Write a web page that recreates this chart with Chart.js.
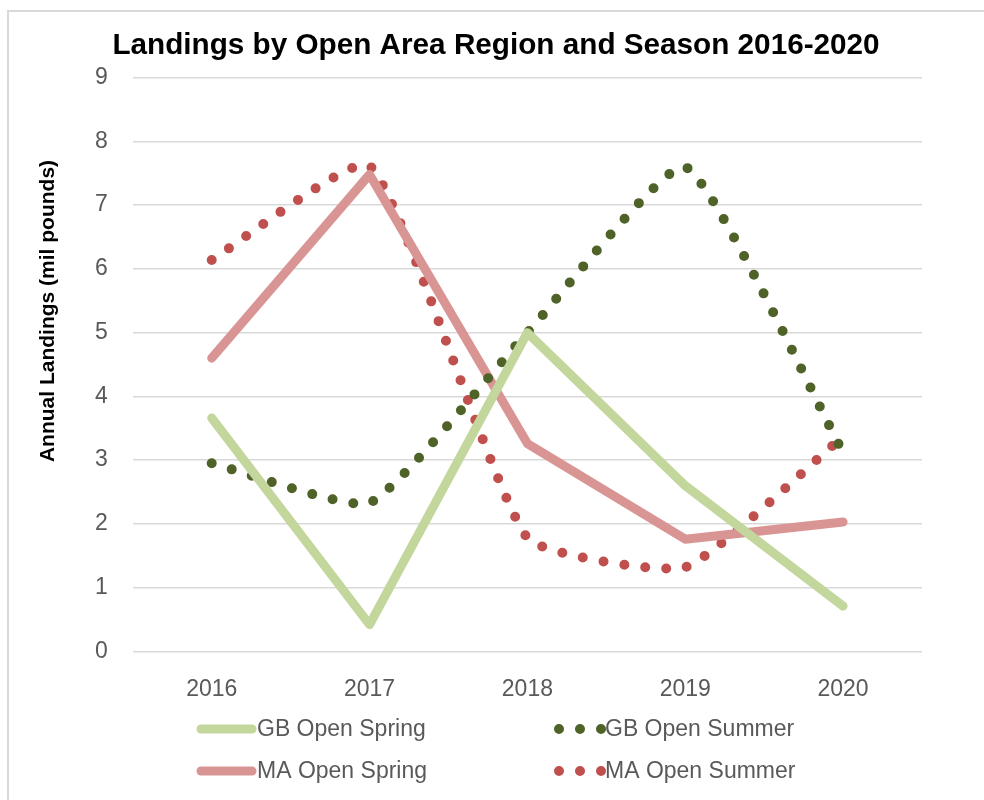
<!DOCTYPE html>
<html>
<head>
<meta charset="utf-8">
<title>Landings by Open Area Region and Season</title>
<script src="https://cdn.jsdelivr.net/npm/chart.js@4.4.1/dist/chart.umd.min.js"></script>
<style>
    html, body { margin: 0; padding: 0; background: #fff; }
    #wrap { position: relative; width: 984px; height: 800px; overflow: hidden; }
    #frame {
        position: absolute; left: 7px; top: 10px; width: 1200px; height: 1000px;
        border-top: 2px solid #d9d9d9; border-left: 2px solid #d9d9d9;
    }
    canvas { position: absolute; left: 0; top: 0; }
</style>
</head>
<body>
<div id="wrap">
    <div id="frame"></div>
    <canvas id="landingsChart" width="984" height="800"></canvas>
</div>
<script>
// Annual landings, million pounds
const years = ['2016', '2017', '2018', '2019', '2020'];
const gbOpenSpring = [3.66, 0.42, 5.0, 2.6, 0.71];
const gbOpenSummer = [2.95, 2.33, 5.0, 7.6, 3.12];
const maOpenSpring = [4.6, 7.48, 3.26, 1.76, 2.03];
const maOpenSummer = [6.14, 7.62, 1.78, 1.32, 3.37];

const FONT = "'Liberation Sans', Arial, sans-serif";
const GRID = '#d9d9d9';
const TEXT_GRAY = '#595959';

function solidSeries(label, data, color) {
    return {
        label: label,
        data: data,
        borderColor: color,
        backgroundColor: color,
        borderWidth: 9,
        borderCapStyle: 'round',
        borderJoinStyle: 'round',
        pointRadius: 0,
        pointHoverRadius: 0,
        tension: 0,
        fill: false
    };
}

function dottedSeries(label, data, color) {
    return {
        label: label,
        data: data,
        borderColor: color,
        backgroundColor: color,
        borderWidth: 10,
        borderDash: [0, 21],
        borderCapStyle: 'round',
        borderJoinStyle: 'round',
        pointRadius: 0,
        pointHoverRadius: 0,
        tension: 0.15,
        fill: false
    };
}

// y axis title, drawn a bit above the axis middle
const yTitlePlugin = {
    id: 'yTitle',
    afterDraw(chart, args, opts) {
        const ctx = chart.ctx;
        ctx.save();
        ctx.translate(opts.x, opts.y);
        ctx.rotate(-Math.PI / 2);
        ctx.font = 'bold 21px ' + FONT;
        ctx.fillStyle = '#000';
        ctx.textAlign = 'center';
        ctx.textBaseline = 'middle';
        ctx.fillText(opts.text, 0, 0);
        ctx.restore();
    }
};

// two-column legend under the x axis
const gridLegendPlugin = {
    id: 'gridLegend',
    afterDraw(chart, args, opts) {
        const ctx = chart.ctx;
        const sets = chart.data.datasets;
        ctx.save();
        ctx.font = '23px ' + FONT;
        ctx.textBaseline = 'middle';
        ctx.textAlign = 'left';
        sets.forEach((ds, i) => {
            const col = i % 2;
            const row = Math.floor(i / 2);
            const x = opts.columns[col];
            const y = opts.rows[row];
            ctx.strokeStyle = ds.borderColor;
            ctx.lineWidth = ds.borderWidth;
            ctx.lineCap = 'round';
            ctx.setLineDash(ds.borderDash || []);
            ctx.beginPath();
            if (ds.borderDash) {
                ctx.moveTo(x + 6, y);
                ctx.lineTo(x + 49, y);
            } else {
                ctx.moveTo(x + 4, y);
                ctx.lineTo(x + 55, y);
            }
            ctx.stroke();
            ctx.setLineDash([]);
            ctx.fillStyle = TEXT_GRAY;
            ctx.fillText(ds.label, x + (ds.borderDash ? 52 : 60), y + 1);
        });
        ctx.restore();
    }
};

const ctx = document.getElementById('landingsChart').getContext('2d');
new Chart(ctx, {
    type: 'line',
    data: {
        labels: years,
        datasets: [
            solidSeries('GB Open Spring', gbOpenSpring, '#c3d69b'),
            dottedSeries('GB Open Summer', gbOpenSummer, '#4f6228'),
            solidSeries('MA Open Spring', maOpenSpring, '#d99594'),
            dottedSeries('MA Open Summer', maOpenSummer, '#c0504d')
        ]
    },
    options: {
        responsive: false,
        animation: false,
        events: [],
        layout: {
            padding: { top: 28, left: 70, right: 62, bottom: 73 }
        },
        scales: {
            x: {
                offset: true,
                grid: { display: false, drawTicks: false },
                border: { display: false },
                ticks: {
                    color: TEXT_GRAY,
                    padding: 24,
                    font: { family: FONT, size: 23 }
                }
            },
            y: {
                min: 0,
                max: 9,
                grid: { color: GRID, lineWidth: 1.5, drawTicks: false },
                border: { display: false },
                ticks: {
                    stepSize: 1,
                    color: TEXT_GRAY,
                    padding: 25,
                    font: { family: FONT, size: 23 }
                }
            }
        },
        plugins: {
            legend: { display: false },
            tooltip: { enabled: false },
            title: {
                display: true,
                text: 'Landings by Open Area Region and Season 2016-2020',
                color: '#000',
                font: { family: FONT, size: 29.7, weight: 'bold' },
                padding: { top: 0, bottom: 14 }
            },
            yTitle: { text: 'Annual Landings (mil pounds)', x: 48, y: 311 },
            gridLegend: { columns: [197, 553], rows: [729, 771] }
        }
    },
    plugins: [yTitlePlugin, gridLegendPlugin]
});
</script>
</body>
</html>
